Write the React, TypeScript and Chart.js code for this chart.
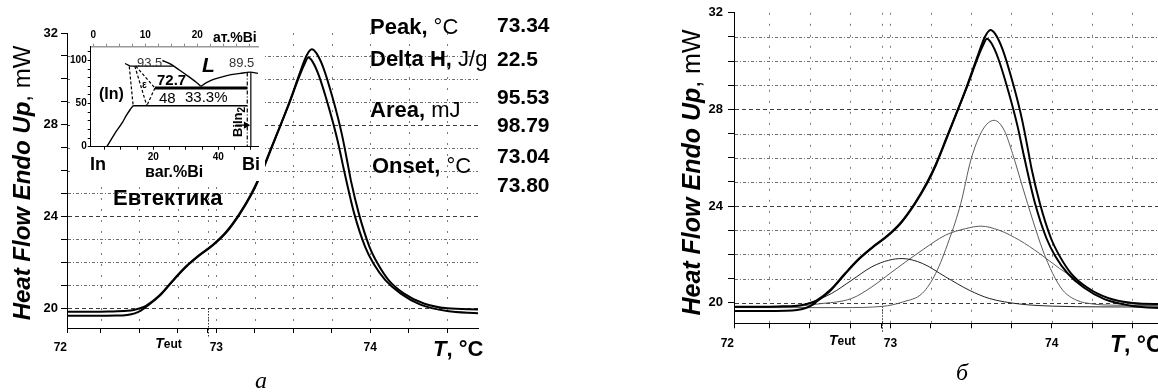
import React, { useEffect, useRef } from 'react';
import { Chart, registerables } from 'chart.js';

Chart.register(...registerables);

const SANS = '"Liberation Sans", Arial, Helvetica, sans-serif';
const SERIF = '"Liberation Serif", "Times New Roman", serif';
Chart.defaults.font.family = SANS;
Chart.defaults.color = '#000';

// ---------- DSC runs: temperature (°C) / heat flow (mW) ----------
const runA_T = [72.03, 72.2, 72.35, 72.42, 72.47, 72.51, 72.543, 72.63, 72.717, 72.804, 72.891, 72.978, 73.065, 73.152, 73.228, 73.282, 73.347, 73.413, 73.478, 73.543, 73.585, 73.62, 73.65, 73.695, 73.761, 73.815, 73.858, 73.874, 73.926, 73.995, 74.048, 74.119, 74.217, 74.348, 74.5, 74.7];
const runA_HF = [19.66, 19.66, 19.67, 19.7, 19.77, 19.89, 20.05, 20.52, 21.18, 21.8, 22.3, 22.74, 23.3, 24.1, 24.95, 25.7, 26.78, 27.9, 29.04, 30.26, 31.0, 31.29, 31.12, 30.49, 29.04, 27.6, 26.14, 25.57, 24.12, 22.67, 21.94, 21.22, 20.64, 20.2, 19.99, 19.94];
const runB_T = [72.03, 72.2, 72.3, 72.42, 72.47, 72.51, 72.543, 72.63, 72.717, 72.804, 72.891, 72.978, 73.065, 73.152, 73.228, 73.282, 73.347, 73.413, 73.478, 73.53, 73.57, 73.598, 73.625, 73.667, 73.733, 73.788, 73.83, 73.896, 73.967, 74.021, 74.098, 74.196, 74.326, 74.5, 74.7];
const runB_HF = [19.84, 19.84, 19.85, 19.88, 19.93, 20.0, 20.1, 20.55, 21.2, 21.82, 22.32, 22.76, 23.33, 24.13, 25.0, 25.75, 26.82, 27.92, 29.0, 29.95, 30.6, 30.93, 30.75, 30.13, 28.7, 27.3, 26.0, 24.12, 22.67, 21.94, 21.22, 20.64, 20.15, 19.87, 19.77];

// ---------- deconvolution components (panel б) ----------
const peak1_T = [72.03, 72.3, 72.45, 72.52, 72.636, 72.761, 72.885, 72.99, 73.072, 73.197, 73.342, 73.488, 73.612, 73.799, 74.006, 74.3, 74.7];
const peak1_HF = [19.82, 19.83, 19.9, 20.05, 20.39, 20.94, 21.49, 21.76, 21.83, 21.63, 21.07, 20.52, 20.18, 19.95, 19.86, 19.83, 19.82];
const peak2_T = [72.03, 72.4, 72.55, 72.76, 72.885, 73.01, 73.197, 73.342, 73.467, 73.56, 73.674, 73.799, 73.924, 74.048, 74.173, 74.276, 74.42, 74.588, 74.7];
const peak2_HF = [19.82, 19.85, 19.95, 20.18, 20.66, 21.28, 22.18, 22.8, 23.07, 23.17, 23.0, 22.59, 22.04, 21.42, 20.87, 20.39, 20.04, 19.9, 19.86];
const peak3_T = [72.03, 72.7, 72.95, 73.08, 73.197, 73.28, 73.363, 73.436, 73.498, 73.57, 73.643, 73.705, 73.757, 73.819, 73.882, 73.944, 74.006, 74.068, 74.152, 74.255, 74.38, 74.7];
const peak3_HF = [19.8, 19.8, 19.85, 20.04, 20.39, 21.21, 22.59, 24.11, 25.9, 27.14, 27.55, 27.14, 26.17, 24.79, 23.42, 22.18, 21.21, 20.52, 20.11, 19.95, 19.9, 19.88];

// ---------- main axes ----------
const X_MIN = 72.03;
const X_MAX = 74.7;
const X_TICKS = [72.25, 72.5, 72.75, 73, 73.25, 73.5, 73.75, 74, 74.25, 74.5];
const X_LABELED = [73, 74];
const X_FIRST_LABEL = '72';
const T_EUT = 72.945;
const Y_MAX = 32;
const Y_TICKS = [20, 21, 22, 23, 24, 25, 26, 27, 28, 29, 30, 31, 32];
const Y_LABELED = [20, 24, 28, 32];
const Y_GRID = [20, 21, 22, 23, 24, 25, 26, 27, 28, 29, 30, 31];

// ---------- results table (panel а) ----------
const RESULT_LABELS: Array<[string, string]> = [['Peak, ', '°C'], ['Delta H, ', 'J/g'], ['Area, ', 'mJ'], ['Onset, ', '°C']];
const RESULT_VALUES = ['73.34', '22.5', '95.53', '98.79', '73.04', '73.80'];

// ---------- inset phase diagram In–Bi (wt.% Bi, temperature) ----------
const solidusIn_wt = [5.7, 8.2, 10.3, 11.8, 12.8, 13.8];
const solidusIn_T = [0, 15.5, 27, 36.8, 42.6, 47.5];
const iso48_wt = [13.8, 48.9];
const iso48_T = [47.5, 47.5];
const iso727_wt = [20.5, 48.9];
const iso727_T = [68, 68];
const iso935_wt = [12.9, 26.2];
const iso935_T = [93.5, 93.5];
const liqIn_wt = [11.3, 12.9];
const liqIn_T = [96.5, 93.5];
const liqDown_wt = [22.8, 25.2, 28, 31, 33.3, 34.6];
const liqDown_T = [100, 96, 89, 81, 74.5, 70];
const liqUp_wt = [34.6, 36.5, 38.5, 42.6, 46.7, 49.8, 52.2];
const liqUp_T = [70, 74.5, 78, 82.5, 85, 86.5, 85];
const dash1_wt = [12.6, 13.8];
const dash1_T = [93, 47.5];
const dash2_wt = [14.3, 18.0];
const dash2_T = [93.5, 47.5];
const dash3_wt = [14.6, 20.5];
const dash3_T = [93.5, 68];
const dash4_wt = [20.5, 18.0];
const dash4_T = [68, 47.5];
const biin2_wt = [50.0, 50.0];
const biin2_T = [86.5, 0];
const biin2Dash_wt = [48.9, 48.9];
const biin2Dash_T = [86, 0];
const arrow_wt = [45.3, 48.5];
const arrow_T = [25, 25];

const INSET_T_TICKS = [0, 10, 20, 30, 40, 50, 60, 70, 80, 90, 100, 110];
const INSET_T_LABELED = [0, 50, 100];
const INSET_WT_TICKS = [5, 10, 15, 20, 25, 30, 35, 40, 45, 50];
const INSET_WT_LABELED = [20, 40];
const INSET_AT_TICKS = [0, 2.5, 5, 7.5, 10, 12.5, 15, 17.5, 20, 22.5, 25, 27.5, 30];
const INSET_AT_LABELED = [0, 10, 20];

// ---------- layout ----------
const PANEL_A = {
  key: 'a', canvasLeft: 0, canvasW: 560, top: 33, padRight: 82, yAxisW: 67, xAxisH: 64, yMin: 19.13,
  xLabelPad: 7, yLabelPad: 3,
  yTitle: { x: 30, y: 183, size: 24 }, xTitle: { x: 433, y: 356, size: 22 }, teutY: 348,
  caption: 'а', capX: 261, capY: 388, components: false,
};
const PANEL_B = {
  key: 'b', canvasLeft: 600, canvasW: 580, top: 12.7, padRight: 15.3, yAxisW: 134, xAxisH: 68.7, yMin: 19.15,
  xLabelPad: 8, yLabelPad: 5,
  yTitle: { x: 100, y: 172.5, size: 25 }, xTitle: { x: 510, y: 352, size: 23 }, teutY: 345,
  caption: 'б', capX: 362, capY: 380, components: true,
};
type PanelCfg = typeof PANEL_A;

type Run = [string, string, number?];
function drawRuns(ctx: CanvasRenderingContext2D, runs: Run[], x: number, y: number, align = 'left') {
  let total = 0;
  for (const r of runs) { ctx.font = r[1]; total += ctx.measureText(r[0]).width; }
  let cx = align === 'center' ? x - total / 2 : align === 'right' ? x - total : x;
  ctx.textAlign = 'left';
  for (const r of runs) {
    ctx.font = r[1];
    ctx.fillText(r[0], cx, y + (r[2] || 0));
    cx += ctx.measureText(r[0]).width;
  }
}
const f = (style: string, size: number, fam = SANS) => `${style} ${size}px ${fam}`.trim();

const gridPlugin = {
  id: 'dscGrid',
  beforeDatasetsDraw(chart: any) {
    const { ctx, chartArea: a } = chart;
    const xs = chart.scales.x, ys = chart.scales.y;
    ctx.save();
    ctx.lineWidth = 1;
    for (const v of Y_GRID) {
      const py = Math.round(ys.getPixelForValue(v)) + 0.5;
      const major = v % 4 === 0;
      ctx.strokeStyle = major ? '#3c3c3c' : '#6e6e6e';
      ctx.setLineDash(major ? [4, 3] : [3, 2, 1, 2]);
      ctx.beginPath(); ctx.moveTo(a.left + 1, py); ctx.lineTo(a.right, py); ctx.stroke();
    }
    for (const v of [...X_TICKS, T_EUT]) {
      const px = Math.round(xs.getPixelForValue(v)) + 0.5;
      ctx.strokeStyle = '#7a7a7a';
      ctx.setLineDash([2, 9]);
      ctx.beginPath(); ctx.moveTo(px, a.top); ctx.lineTo(px, a.bottom); ctx.stroke();
    }
    const tx = Math.round(xs.getPixelForValue(T_EUT)) + 0.5;
    ctx.strokeStyle = '#333';
    ctx.setLineDash([1.5, 1.5]);
    ctx.beginPath(); ctx.moveTo(tx, a.bottom - 20); ctx.lineTo(tx, a.bottom + 9); ctx.stroke();
    ctx.restore();
  },
};

function textPlugin(P: PanelCfg) {
  return {
    id: 'dscText',
    afterDraw(chart: any) {
      const ctx: CanvasRenderingContext2D = chart.ctx;
      const xs = chart.scales.x;
      ctx.save();
      ctx.fillStyle = '#000';
      ctx.textBaseline = 'alphabetic';
      // y title
      ctx.save();
      ctx.translate(P.yTitle.x, P.yTitle.y);
      ctx.rotate(-Math.PI / 2);
      drawRuns(ctx, [['Heat Flow Endo Up', f('bold italic', P.yTitle.size)], [', mW', f('', P.yTitle.size)]], 0, 0, 'center');
      ctx.restore();
      // x title
      drawRuns(ctx, [['T', f('bold italic', P.xTitle.size)], [', °C', f('bold', P.xTitle.size)]], P.xTitle.x, P.xTitle.y);
      // Teut label
      const tx = xs.getPixelForValue(T_EUT);
      drawRuns(ctx, [['T', f('bold italic', 14)], ['eut', f('bold', 12)]], tx - 26, P.teutY, 'right');
      // caption
      ctx.font = f('italic', 24, SERIF);
      ctx.textAlign = 'center';
      ctx.fillText(P.caption, P.capX, P.capY);
      if (P.key === 'a') {
        const labelPos = [[370, 33.5], [370, 65.5], [370, 116.5], [372, 172.5]];
        RESULT_LABELS.forEach((lab, i) => {
          drawRuns(ctx, [[lab[0], f('bold', 22)], [lab[1], f('', 22)]], labelPos[i][0], labelPos[i][1]);
        });
        const valY = [31.5, 65.5, 104, 131.5, 163, 191.5];
        ctx.font = f('bold', 21);
        ctx.textAlign = 'left';
        RESULT_VALUES.forEach((v, i) => ctx.fillText(v, 497, valY[i]));
        ctx.font = f('bold', 22);
        ctx.fillText('Евтектика', 113, 205);
      }
      ctx.restore();
    },
  };
}

function mk(xs: number[], ys: number[], color: string, width: number, extra: any = {}) {
  return {
    data: xs.map((x, i) => ({ x, y: ys[i] })),
    showLine: true,
    borderColor: color,
    backgroundColor: color,
    borderWidth: width,
    pointRadius: 0,
    fill: false,
    ...extra,
  };
}

function mainConfig(P: PanelCfg): any {
  const curve = { cubicInterpolationMode: 'monotone' };
  const datasets: any[] = [
    mk(runA_T, runA_HF, '#000', 2, curve),
    mk(runB_T, runB_HF, '#000', 2, curve),
  ];
  if (P.components) {
    datasets.push(
      mk(peak1_T, peak1_HF, '#222', 1, curve),
      mk(peak2_T, peak2_HF, '#5a5a5a', 1, curve),
      mk(peak3_T, peak3_HF, '#5a5a5a', 1, curve),
    );
  }
  const xTicks = [X_MIN, ...X_TICKS, T_EUT].sort((p, q) => p - q);
  return {
    type: 'scatter',
    data: { datasets },
    options: {
      responsive: false,
      animation: false,
      events: [],
      layout: { padding: { left: 0, top: P.top, right: P.padRight, bottom: 0 } },
      plugins: { legend: { display: false }, tooltip: { enabled: false } },
      scales: {
        x: {
          type: 'linear', min: X_MIN, max: X_MAX,
          afterBuildTicks: (s: any) => { s.ticks = xTicks.map((v) => ({ value: v })); },
          afterFit: (s: any) => { s.height = P.xAxisH; },
          grid: { drawOnChartArea: false, drawTicks: true, tickLength: 5, color: '#000' },
          border: { display: true, color: '#000', width: 1 },
          ticks: {
            autoSkip: false, maxRotation: 0, minRotation: 0, padding: P.xLabelPad, color: '#000',
            font: { size: 12, weight: 'bold', family: SANS },
            callback: (v: number) => (Math.abs(v - X_MIN) < 1e-9 ? X_FIRST_LABEL + '    ' : X_LABELED.includes(v) ? String(v) : ''),
          },
        },
        y: {
          type: 'linear', min: P.yMin, max: Y_MAX,
          afterBuildTicks: (s: any) => { s.ticks = Y_TICKS.map((v) => ({ value: v })); },
          afterFit: (s: any) => { s.width = P.yAxisW; },
          grid: { drawOnChartArea: false, drawTicks: true, tickLength: 6, color: '#000' },
          border: { display: true, color: '#000', width: 1 },
          ticks: {
            autoSkip: false, padding: P.yLabelPad, color: '#000',
            font: { size: 13, weight: 'bold', family: SANS },
            callback: (v: number) => (Y_LABELED.includes(v) ? String(v) : ''),
          },
        },
      },
    },
    plugins: [gridPlugin, textPlugin(P)],
  };
}

// inset positions (canvas px)
const INSET = { left: 70, top: 26, w: 195, h: 155 };

const insetText = {
  id: 'insetText',
  afterDraw(chart: any) {
    const ctx: CanvasRenderingContext2D = chart.ctx;
    ctx.save();
    ctx.textBaseline = 'alphabetic';
    ctx.textAlign = 'left';
    ctx.fillStyle = '#333';
    ctx.font = f('', 13); ctx.fillText('93.5', 67, 41);
    ctx.fillText('89.5', 159, 41);
    ctx.fillStyle = '#000';
    ctx.font = f('bold', 15); ctx.fillText('72.7', 87, 59);
    ctx.font = f('', 15); ctx.fillText('48', 89, 77); ctx.fillText('33.3%', 115, 76);
    ctx.font = f('bold', 16); ctx.fillText('(In)', 29, 73);
    ctx.font = f('bold italic', 21); ctx.fillText('L', 132, 46);
    ctx.font = f('bold', 10); ctx.fillText('ε', 72, 62);
    ctx.font = f('bold', 18); ctx.fillText('In', 20, 144); ctx.fillText('Bi', 172, 144);
    ctx.font = f('bold', 16); ctx.fillText('ваг.%Bi', 75, 151);
    ctx.font = f('bold', 14); ctx.fillText('ат.%Bi', 143, 16);
    ctx.save();
    ctx.translate(172, 96);
    ctx.rotate(-Math.PI / 2);
    drawRuns(ctx, [['BiIn', f('bold', 13)], ['2', f('bold', 10), 3]], 0, 0, 'center');
    ctx.restore();
    ctx.restore();
  },
};

function insetConfig(): any {
  const th = { tension: 0 };
  const sm = { tension: 0.35 };
  const dashed = { tension: 0, borderDash: [3, 2] };
  const datasets = [
    mk(solidusIn_wt, solidusIn_T, '#000', 1.4, sm),
    mk(iso48_wt, iso48_T, '#000', 1.3, th),
    mk(iso727_wt, iso727_T, '#000', 3, th),
    mk(iso935_wt, iso935_T, '#000', 1.2, th),
    mk(liqIn_wt, liqIn_T, '#000', 1.3, th),
    mk(liqDown_wt, liqDown_T, '#000', 1.4, sm),
    mk(liqUp_wt, liqUp_T, '#000', 1.4, sm),
    mk(dash1_wt, dash1_T, '#000', 1.2, dashed),
    mk(dash2_wt, dash2_T, '#000', 1.2, dashed),
    mk(dash3_wt, dash3_T, '#000', 1.2, dashed),
    mk(dash4_wt, dash4_T, '#000', 1.2, dashed),
    mk(biin2_wt, biin2_T, '#000', 1.2, th),
    mk(biin2Dash_wt, biin2Dash_T, '#000', 1.2, { tension: 0, borderDash: [4, 2, 1, 2] }),
    mk(arrow_wt, arrow_T, '#000', 1.2, { tension: 0, pointRadius: [0, 3], pointStyle: 'triangle', rotation: 90 }),
  ];
  const tickFont = { size: 10, weight: 'bold', family: SANS };
  return {
    type: 'scatter',
    data: { datasets },
    options: {
      responsive: false,
      animation: false,
      events: [],
      layout: { padding: { left: 0, top: 0, right: 7, bottom: 0 } },
      plugins: { legend: { display: false }, tooltip: { enabled: false } },
      scales: {
        x: {
          type: 'linear', position: 'bottom', min: 0.74, max: 52.2,
          afterBuildTicks: (s: any) => { s.ticks = INSET_WT_TICKS.map((v) => ({ value: v })); },
          afterFit: (s: any) => { s.height = 34.3; },
          grid: { drawOnChartArea: false, tickLength: 3, color: '#000' },
          border: { color: '#000', width: 1 },
          ticks: { autoSkip: false, maxRotation: 0, padding: 2, font: tickFont, callback: (v: number) => (INSET_WT_LABELED.includes(v) ? String(v) : '') },
        },
        x2: {
          type: 'linear', position: 'top', min: -0.5, max: 31.7,
          afterBuildTicks: (s: any) => { s.ticks = INSET_AT_TICKS.map((v) => ({ value: v })); },
          afterFit: (s: any) => { s.height = 20.7; },
          grid: { drawOnChartArea: false, tickLength: 3, color: '#888' },
          border: { color: '#999', width: 1.5 },
          ticks: { autoSkip: false, maxRotation: 0, padding: 2, font: tickFont, callback: (v: number) => (INSET_AT_LABELED.includes(v) ? String(v) : '') },
        },
        y: {
          type: 'linear', min: 0, max: 116,
          afterBuildTicks: (s: any) => { s.ticks = INSET_T_TICKS.map((v) => ({ value: v })); },
          afterFit: (s: any) => { s.width = 20.7; },
          grid: { drawOnChartArea: false, tickLength: 3, color: '#000' },
          border: { color: '#000', width: 1 },
          ticks: { autoSkip: false, padding: 1, font: tickFont, callback: (v: number) => (INSET_T_LABELED.includes(v) ? String(v) : '') },
        },
      },
    },
    plugins: [insetText],
  };
}

export default function App() {
  const aRef = useRef<HTMLCanvasElement>(null);
  const bRef = useRef<HTMLCanvasElement>(null);
  const iRef = useRef<HTMLCanvasElement>(null);
  useEffect(() => {
    const charts = [
      new Chart(aRef.current as HTMLCanvasElement, mainConfig(PANEL_A)),
      new Chart(bRef.current as HTMLCanvasElement, mainConfig(PANEL_B)),
      new Chart(iRef.current as HTMLCanvasElement, insetConfig()),
    ];
    return () => charts.forEach((c) => c.destroy());
  }, []);
  const abs = (left: number, top: number, w: number, h: number, bg?: string): React.CSSProperties => ({
    position: 'absolute', left, top, width: w, height: h, display: 'block', background: bg,
  });
  return (
    <div style={{ position: 'fixed', left: 0, top: 0, width: 1158, height: 392, overflow: 'hidden', background: '#fff' }}>
      <canvas ref={aRef} width={PANEL_A.canvasW} height={392} style={abs(PANEL_A.canvasLeft, 0, PANEL_A.canvasW, 392)} />
      <canvas ref={bRef} width={PANEL_B.canvasW} height={392} style={abs(PANEL_B.canvasLeft, 0, PANEL_B.canvasW, 392)} />
      <canvas ref={iRef} width={INSET.w} height={INSET.h} style={abs(INSET.left, INSET.top, INSET.w, INSET.h, '#fff')} />
    </div>
  );
}
